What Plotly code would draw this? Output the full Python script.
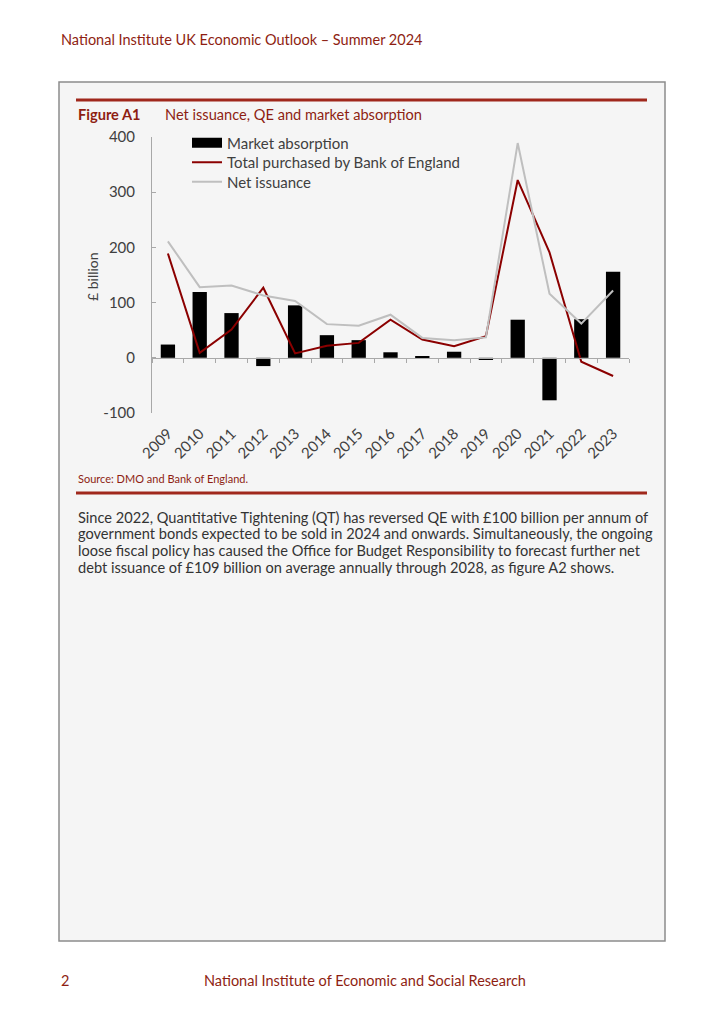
import plotly.graph_objects as go

YEARS = ["2009", "2010", "2011", "2012", "2013", "2014", "2015", "2016",
         "2017", "2018", "2019", "2020", "2021", "2022", "2023"]
MARKET_ABSORPTION = [24, 119, 81, -15, 95, 41, 32, 10, 3, 11, -4, 69, -77, 70, 156]
BOE_PURCHASED = [189, 9, 51, 127, 8, 22, 27, 69, 33, 21, 39, 322, 191, -7, -33]
NET_ISSUANCE = [211, 128, 131, 113, 103, 61, 58, 78, 36, 32, 37, 389, 116, 62, 122]
Y_TICKS = [-100, 0, 100, 200, 300, 400]
Y_TICK_LABELS = ["-100", "0", "100", "200", "300", "400"]

FONT = "Lato"
RED = "#8E1E12"
RULE = "#A0281C"
GREY_TXT = "#404040"
AXIS_GREY = "#A8A8A8"

# page offset of the plotly div inside the browser page (body margin)
OFF = 8
PAGE_W, PAGE_H = 724, 1024

# plot area in page pixels
L, R, T, B = 152, 629, 137, 413
W, H = R - L, B - T


def fx(px):
    return (px - L) / W


def fy(py):
    return (B - py) / H


fig = go.Figure()
fig.add_trace(go.Bar(x=YEARS, y=MARKET_ABSORPTION, name="Market absorption",
                     marker=dict(color="#000000", line=dict(width=0)),
                     showlegend=False, xaxis="x", yaxis="y"))
# legend entry for the bars (wide black swatch, as in the original)
fig.add_trace(go.Scatter(x=[YEARS[0]], y=[None], name="Market absorption",
                         mode="lines", line=dict(color="#000000", width=10),
                         legend="legend", xaxis="x2", yaxis="y", hoverinfo="skip"))
fig.add_trace(go.Scatter(x=YEARS, y=BOE_PURCHASED, name="Total purchased by Bank of England",
                         mode="lines", line=dict(color="#8B0000", width=2),
                         legend="legend2", xaxis="x2", yaxis="y"))
fig.add_trace(go.Scatter(x=YEARS, y=NET_ISSUANCE, name="Net issuance",
                         mode="lines", line=dict(color="#BFBFBF", width=2),
                         legend="legend3", xaxis="x2", yaxis="y"))

zero_pos = (0 - Y_TICKS[0]) / (Y_TICKS[-1] - Y_TICKS[0])

shapes = [
    dict(type="rect", xref="paper", yref="paper", x0=fx(59), x1=fx(665), y0=fy(941), y1=fy(82),
         fillcolor="#F5F5F5", line=dict(color="#8C8C8C", width=1.5), layer="below"),
    dict(type="line", xref="paper", yref="paper", x0=fx(76), x1=fx(647), y0=fy(100), y1=fy(100),
         line=dict(color=RULE, width=3)),
    dict(type="line", xref="paper", yref="paper", x0=fx(76), x1=fx(647), y0=fy(493), y1=fy(493),
         line=dict(color=RULE, width=3)),
]

PARA_LINES = [
    "Since 2022, Quantitative Tightening (QT) has reversed QE with £100 billion per annum of",
    "government bonds expected to be sold in 2024 and onwards. Simultaneously, the ongoing",
    "loose fiscal policy has caused the Office for Budget Responsibility to forecast further net",
    "debt issuance of £109 billion on average annually through 2028, as figure A2 shows.",
]

annotations = [
    dict(text="National Institute UK Economic Outlook – Summer 2024", x=fx(59), y=fy(39),
         font=dict(size=14.5, color=RED)),
    dict(text="<b>Figure A1</b>", x=fx(76), y=fy(114), font=dict(size=14.6, color=RED)),
    dict(text="Net issuance, QE and market absorption", x=fx(163), y=fy(114),
         font=dict(size=14.6, color=RED)),
    dict(text="£ billion", x=fx(92), y=fy(277), textangle=-90, xanchor="center",
         font=dict(size=14, color=GREY_TXT)),
    dict(text="Source: DMO and Bank of England.", x=fx(76), y=fy(478),
         font=dict(size=11, color=RED)),
    dict(text="2", x=fx(59), y=fy(980), font=dict(size=14.5, color=RED)),
    dict(text="National Institute of Economic and Social Research", x=fx(365), y=fy(980),
         xanchor="center", font=dict(size=14.5, color=RED)),
]
for i, line in enumerate(PARA_LINES):
    annotations.append(dict(text=line, x=fx(76), y=fy(517 + i * 16.7),
                            font=dict(size=14.6, color="#333333")))
for a in annotations:
    a.setdefault("xref", "paper")
    a.setdefault("yref", "paper")
    a.setdefault("xanchor", "left")
    a.setdefault("yanchor", "middle")
    a["showarrow"] = False


def leg(row_y):
    return dict(x=fx(187), y=fy(row_y), xanchor="left", yanchor="middle",
                bgcolor="rgba(0,0,0,0)", font=dict(size=15, color=GREY_TXT),
                itemwidth=30)


fig.update_layout(
    width=PAGE_W - OFF, height=PAGE_H - OFF,
    margin=dict(l=L - OFF, r=PAGE_W - R, t=T - OFF, b=PAGE_H - B, pad=0),
    paper_bgcolor="#FFFFFF", plot_bgcolor="rgba(0,0,0,0)",
    font=dict(family=FONT, color=GREY_TXT),
    bargap=0.55,
    showlegend=True,
    legend=leg(143), legend2=leg(162.5), legend3=leg(182),
    xaxis=dict(type="category", categoryorder="array", categoryarray=YEARS,
               range=[-0.5, len(YEARS) - 0.5], anchor="free", position=zero_pos,
               showline=True, linecolor=AXIS_GREY, linewidth=1,
               ticks="outside", tickson="boundaries", ticklen=4, tickcolor=AXIS_GREY,
               showticklabels=False, showgrid=False, zeroline=False),
    xaxis2=dict(type="category", categoryorder="array", categoryarray=YEARS,
                range=[-0.5, len(YEARS) - 0.5], overlaying="x", anchor="y", side="bottom",
                showline=False, ticks="", showticklabels=True, tickangle=-45,
                ticklabelstandoff=8,
                tickfont=dict(size=15, color=GREY_TXT), showgrid=False, zeroline=False),
    yaxis=dict(range=[Y_TICKS[0], Y_TICKS[-1]], tickvals=Y_TICKS, ticktext=Y_TICK_LABELS,
               showline=True, linecolor=AXIS_GREY, linewidth=1,
               ticks="inside", ticklen=4, tickcolor=AXIS_GREY,
               ticklabelstandoff=13,
               tickfont=dict(size=15, color=GREY_TXT),
               showgrid=False, zeroline=False),
    shapes=shapes,
    annotations=annotations,
)

fig.write_html("out.html")
